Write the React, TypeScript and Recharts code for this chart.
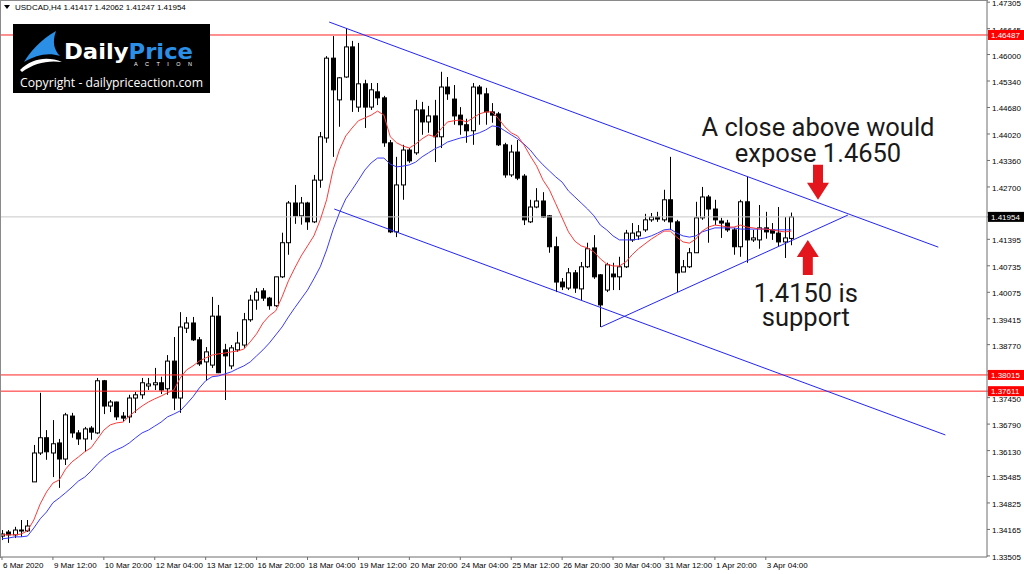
import { ComposedChart, Bar, Line, XAxis, YAxis, ReferenceLine, ReferenceDot } from 'recharts';

// USDCAD H4, one entry per bar from 6 Mar 2020 04:00 to 3 Apr 2020 20:00
const opens = [
  1.3400, 1.3410, 1.3403, 1.3413, 1.3413, 1.3535, 1.3607, 1.3645, 1.3607, 1.3632,
  1.3592, 1.3699, 1.3657, 1.3642, 1.3669, 1.3657, 1.3787, 1.3724, 1.3734, 1.3699,
  1.3697, 1.3744, 1.3752, 1.3774, 1.3777, 1.3782, 1.3767, 1.3836, 1.3744, 1.3918,
  1.3931, 1.3889, 1.3834, 1.3826, 1.3948, 1.3864, 1.3824, 1.3864, 1.3876, 1.3939,
  1.3988, 1.4011, 1.3993, 1.3974, 1.4046, 1.4131, 1.4230, 1.4198, 1.4230, 1.4183,
  1.4287, 1.4392, 1.4591, 1.4487, 1.4544, 1.4619, 1.4469, 1.4527, 1.4469, 1.4507,
  1.4492, 1.4380, 1.4158, 1.4275, 1.4362, 1.4355, 1.4462, 1.4432, 1.4447, 1.4395,
  1.4519, 1.4489, 1.4449, 1.4425, 1.4410, 1.4519, 1.4502, 1.4457, 1.4452, 1.4375,
  1.4300, 1.4357, 1.4297, 1.4183, 1.4220, 1.4235, 1.4198, 1.4121, 1.4033, 1.4018,
  1.4056, 1.4016, 1.4071, 1.4118, 1.4051, 1.4013, 1.4053, 1.4046, 1.4071, 1.4138,
  1.4148, 1.4163, 1.4188, 1.4195, 1.4188, 1.4238, 1.4183, 1.4058, 1.4071, 1.4106,
  1.4193, 1.4245, 1.4215, 1.4185, 1.4180, 1.4163, 1.4121, 1.4233, 1.4138, 1.4138,
  1.4168, 1.4163, 1.4155, 1.4133, 1.41417,
];
const highs = [
  1.3415, 1.3415, 1.3423, 1.3440, 1.3440, 1.3627, 1.3757, 1.3664, 1.3689, 1.3642,
  1.3707, 1.3707, 1.3664, 1.3672, 1.3674, 1.3794, 1.3789, 1.3739, 1.3735, 1.3709,
  1.3752, 1.3759, 1.3794, 1.3794, 1.3819, 1.3797, 1.3851, 1.3896, 1.3958, 1.3946,
  1.3946, 1.3896, 1.3871, 1.3996, 1.3976, 1.3879, 1.3876, 1.3909, 1.3956, 1.4001,
  1.4018, 1.4018, 1.3996, 1.4046, 1.4156, 1.4235, 1.4275, 1.4245, 1.4233, 1.4300,
  1.4407, 1.4596, 1.4646, 1.4544, 1.4666, 1.4634, 1.4629, 1.4537, 1.4529, 1.4529,
  1.4497, 1.4387, 1.4345, 1.4375, 1.4367, 1.4487, 1.4482, 1.4472, 1.4487, 1.4557,
  1.4544, 1.4524, 1.4469, 1.4440, 1.4529, 1.4524, 1.4517, 1.4479, 1.4457, 1.4380,
  1.4375, 1.4387, 1.4302, 1.4238, 1.4267, 1.4257, 1.4200, 1.4146, 1.4043, 1.4068,
  1.4063, 1.4083, 1.4131, 1.4150, 1.4053, 1.4081, 1.4081, 1.4096, 1.4163, 1.4180,
  1.4175, 1.4203, 1.4205, 1.4208, 1.4263, 1.4345, 1.4188, 1.4088, 1.4118, 1.4233,
  1.4270, 1.4250, 1.4238, 1.4193, 1.4188, 1.4168, 1.4238, 1.4295, 1.4163, 1.4225,
  1.4208, 1.4180, 1.4220, 1.4195, 1.42062,
];
const lows = [
  1.3390, 1.3383, 1.3395, 1.3398, 1.3410, 1.3535, 1.3602, 1.3590, 1.3547, 1.3520,
  1.3577, 1.3645, 1.3627, 1.3610, 1.3640, 1.3654, 1.3704, 1.3709, 1.3689, 1.3684,
  1.3682, 1.3707, 1.3742, 1.3764, 1.3764, 1.3754, 1.3752, 1.3714, 1.3707, 1.3906,
  1.3886, 1.3824, 1.3787, 1.3819, 1.3806, 1.3739, 1.3816, 1.3859, 1.3869, 1.3934,
  1.3964, 1.3986, 1.3964, 1.3971, 1.4043, 1.4101, 1.4178, 1.4176, 1.4163, 1.4180,
  1.4268, 1.4380, 1.4345, 1.4420, 1.4542, 1.4457, 1.4457, 1.4417, 1.4462, 1.4474,
  1.4370, 1.4155, 1.4145, 1.4238, 1.4330, 1.4350, 1.4400, 1.4405, 1.4332, 1.4367,
  1.4487, 1.4425, 1.4400, 1.4380, 1.4375, 1.4425, 1.4425, 1.4430, 1.4372, 1.4293,
  1.4295, 1.4287, 1.4175, 1.4180, 1.4217, 1.4193, 1.4106, 1.4008, 1.4013, 1.4013,
  1.4006, 1.3988, 1.4068, 1.4041, 1.3921, 1.4008, 1.4013, 1.4013, 1.4068, 1.4133,
  1.4138, 1.4158, 1.4183, 1.4183, 1.4183, 1.4163, 1.4008, 1.4058, 1.4068, 1.4106,
  1.4188, 1.4131, 1.4175, 1.4143, 1.4158, 1.4101, 1.4096, 1.4081, 1.4133, 1.4116,
  1.4141, 1.4138, 1.4121, 1.4093, 1.41247,
];
const closes = [
  1.3405, 1.3403, 1.3415, 1.3415, 1.3425, 1.3607, 1.3645, 1.3610, 1.3630, 1.3592,
  1.3702, 1.3657, 1.3642, 1.3667, 1.3659, 1.3787, 1.3724, 1.3734, 1.3697, 1.3694,
  1.3744, 1.3752, 1.3782, 1.3779, 1.3782, 1.3764, 1.3836, 1.3744, 1.3921, 1.3931,
  1.3889, 1.3829, 1.3859, 1.3948, 1.3807, 1.3849, 1.3869, 1.3881, 1.3939, 1.3988,
  1.4008, 1.3993, 1.3974, 1.4046, 1.4131, 1.4230, 1.4198, 1.4230, 1.4183, 1.4287,
  1.4395, 1.4591, 1.4512, 1.4542, 1.4619, 1.4487, 1.4527, 1.4469, 1.4512, 1.4492,
  1.4380, 1.4158, 1.4275, 1.4362, 1.4335, 1.4462, 1.4432, 1.4447, 1.4395, 1.4519,
  1.4502, 1.4447, 1.4425, 1.4410, 1.4519, 1.4502, 1.4457, 1.4449, 1.4375, 1.4300,
  1.4357, 1.4292, 1.4188, 1.4220, 1.4235, 1.4195, 1.4121, 1.4033, 1.4021, 1.4056,
  1.4018, 1.4071, 1.4116, 1.4046, 1.3976, 1.4076, 1.4046, 1.4071, 1.4155, 1.4155,
  1.4158, 1.4188, 1.4195, 1.4190, 1.4238, 1.4183, 1.4056, 1.4071, 1.4106, 1.4193,
  1.4245, 1.4215, 1.4188, 1.4180, 1.4163, 1.4121, 1.4233, 1.4138, 1.4143, 1.4168,
  1.4158, 1.4155, 1.4133, 1.4143, 1.41954,
];

// the two moving averages (red = fast, blue = slow)
const fastMa = [
  1.3403, 1.3403, 1.3403, 1.3405, 1.3413, 1.3440, 1.3480, 1.3510, 1.3532, 1.3540,
  1.3567, 1.3585, 1.3597, 1.3610, 1.3620, 1.3642, 1.3664, 1.3677, 1.3682, 1.3684,
  1.3699, 1.3712, 1.3724, 1.3734, 1.3742, 1.3749, 1.3757, 1.3764, 1.3794, 1.3814,
  1.3824, 1.3836, 1.3844, 1.3851, 1.3854, 1.3856, 1.3859, 1.3861, 1.3866, 1.3884,
  1.3904, 1.3931, 1.3949, 1.3961, 1.3996, 1.4036, 1.4068, 1.4098, 1.4123, 1.4148,
  1.4188, 1.4238, 1.4312, 1.4362, 1.4397, 1.4417, 1.4435, 1.4442, 1.4449, 1.4459,
  1.4449, 1.4395, 1.4380, 1.4372, 1.4367, 1.4377, 1.4390, 1.4400, 1.4395, 1.4415,
  1.4432, 1.4435, 1.4437, 1.4432, 1.4442, 1.4452, 1.4457, 1.4457, 1.4440, 1.4420,
  1.4405, 1.4397, 1.4375, 1.4347, 1.4322, 1.4287, 1.4263, 1.4228, 1.4193, 1.4158,
  1.4135, 1.4123, 1.4118, 1.4108, 1.4091, 1.4078, 1.4073, 1.4073, 1.4083, 1.4101,
  1.4116, 1.4128, 1.4140, 1.4150, 1.4160, 1.4160, 1.4145, 1.4133, 1.4130, 1.4140,
  1.4160, 1.4170, 1.4175, 1.4173, 1.4170, 1.4170, 1.4175, 1.4170, 1.4168, 1.4165,
  1.4165, 1.4163, 1.4160, 1.4158, 1.4160,
];
const slowMa = [
  1.3393, 1.3395, 1.3398, 1.3398, 1.3400, 1.3420, 1.3443, 1.3460, 1.3483, 1.3495,
  1.3508, 1.3522, 1.3537, 1.3547, 1.3562, 1.3580, 1.3595, 1.3607, 1.3615, 1.3622,
  1.3632, 1.3645, 1.3657, 1.3664, 1.3674, 1.3684, 1.3697, 1.3704, 1.3712, 1.3729,
  1.3747, 1.3769, 1.3787, 1.3797, 1.3799, 1.3804, 1.3809, 1.3817, 1.3824, 1.3834,
  1.3849, 1.3864, 1.3881, 1.3901, 1.3921, 1.3946, 1.3969, 1.3991, 1.4013, 1.4041,
  1.4071, 1.4113, 1.4163, 1.4205, 1.4240, 1.4263, 1.4287, 1.4312, 1.4330, 1.4342,
  1.4342, 1.4327, 1.4320, 1.4322, 1.4325, 1.4332, 1.4345, 1.4355, 1.4365, 1.4372,
  1.4382, 1.4387, 1.4392, 1.4395, 1.4400, 1.4405, 1.4412, 1.4422, 1.4420, 1.4410,
  1.4400, 1.4390, 1.4377, 1.4362, 1.4342, 1.4325, 1.4310, 1.4295, 1.4282, 1.4260,
  1.4245, 1.4230, 1.4215, 1.4198, 1.4175, 1.4163, 1.4148, 1.4138, 1.4138, 1.4138,
  1.4140, 1.4143, 1.4148, 1.4155, 1.4163, 1.4165, 1.4155, 1.4148, 1.4145, 1.4148,
  1.4158, 1.4163, 1.4168, 1.4168, 1.4168, 1.4168, 1.4165, 1.4165, 1.4165, 1.4165,
  1.4165, 1.4163, 1.4163, 1.4163, 1.4163,
];

// bottom axis: one label every 8 bars
const timeLabels = [
  '6 Mar 2020', '9 Mar 12:00', '10 Mar 20:00', '12 Mar 04:00', '13 Mar 12:00', '16 Mar 20:00',
  '18 Mar 04:00', '19 Mar 12:00', '20 Mar 20:00', '24 Mar 04:00', '25 Mar 12:00', '26 Mar 20:00',
  '30 Mar 04:00', '31 Mar 12:00', '1 Apr 20:00', '3 Apr 04:00',
];
const labelStep = 8;

const priceTicks = [
  1.47305, 1.46645, 1.46, 1.4534, 1.4468, 1.4402, 1.4336, 1.427, 1.42055, 1.41395, 1.40735,
  1.40075, 1.39415, 1.3877, 1.3811, 1.3745, 1.3679, 1.3613, 1.35485, 1.34825, 1.34165, 1.33505,
];

const levels = [1.46487, 1.38015, 1.37611];
const lastPrice = 1.41954;

// hand drawn lines: [barA, priceA, barB, priceB]
const channelTop = [51.4, 1.4681, 147.1, 1.412];
const channelBottom = [52.2, 1.4215, 148.2, 1.3652];
const risingSupport = [94.1, 1.3921, 132.9, 1.42];

const noteUp = { bar: 128.2, price: 1.4238, lines: ['A close above would', 'expose 1.4650'] };
const noteDown = { bar: 126.6, price: 1.4138, lines: ['1.4150 is', 'support'] };

const rows = opens.map((o, i) => ({
  idx: i,
  open: o,
  high: highs[i],
  low: lows[i],
  close: closes[i],
  fast: fastMa[i],
  slow: slowMa[i],
}));
const tickIdx = timeLabels.map((_, i) => i * labelStep);

// price tags go last so they sit on top of the ordinary labels
const tagColor: Record<string, string> = { [lastPrice.toFixed(5)]: '#000' };
levels.forEach((lv) => { tagColor[lv.toFixed(5)] = '#f00'; });
const axisTicks = [...priceTicks, lastPrice, ...levels];

const FONT = 'Liberation Sans, Arial, sans-serif';

const Candle = (props: any) => {
  const { x, y, width, height, payload } = props;
  if (!payload) return null;
  const { open, close, high, low } = payload;
  const cx = Math.floor(x + width / 2) + 0.5;
  const k = height / (high - low || 1);
  const yo = y + (high - open) * k;
  const yc = y + (high - close) * k;
  const top = Math.min(yo, yc);
  const h = Math.max(Math.abs(yc - yo), 1);
  return (
    <g>
      <line x1={cx} x2={cx} y1={y} y2={y + height} stroke="#000" strokeWidth={1} />
      <rect x={cx - 2} y={top} width={4} height={h} fill={close >= open ? '#fff' : '#000'} stroke="#000" strokeWidth={1} />
    </g>
  );
};

const TimeTick = ({ x, y, payload }: any) => (
  <text x={x + 1} y={y} dy={6} fontSize={8} fontFamily={FONT} fill="#000" textAnchor="start">
    {timeLabels[Math.round(payload.value / labelStep)]}
  </text>
);

const PriceTick = ({ x, y, payload }: any) => {
  const label = Number(payload.value).toFixed(5);
  const bg = tagColor[label];
  if (bg) {
    return (
      <g>
        <rect x={x - 4} y={y - 5} width={36} height={10} fill={bg} />
        <text x={x - 1} y={y + 3} fontSize={8} fontFamily={FONT} fill="#fff">{label}</text>
      </g>
    );
  }
  return (
    <text x={x} y={y + 4} fontSize={8} fontFamily={FONT} fill="#000">{label}</text>
  );
};

const ARROW = '#e3161d';

const ArrowNote = ({ cx, cy, dir, lines }: any) => {
  // dir 1: arrow points down to (cx, cy); dir -1: points up
  const s = dir;
  const pts = [
    [cx - 5, cy - 35 * s], [cx + 5, cy - 35 * s], [cx + 5, cy - 17 * s], [cx + 11, cy - 17 * s],
    [cx, cy], [cx - 11, cy - 17 * s], [cx - 5, cy - 17 * s],
  ].map((p) => p.join(',')).join(' ');
  const textX = dir > 0 ? cx : cx - 2;
  const base = dir > 0 ? [cy - 64, cy - 38] : [cy + 62, cy + 86];
  return (
    <g>
      <polygon points={pts} fill={ARROW} />
      {lines.map((t: string, i: number) => (
        <text key={t} x={textX} y={base[i]} textAnchor="middle" fontSize={25.5} fontFamily="Roboto, sans-serif" fill="#1a1a1a">
          {t}
        </text>
      ))}
    </g>
  );
};

const seg = (l: number[]) => [{ x: l[0], y: l[1] }, { x: l[2], y: l[3] }];

const Logo = () => (
  <svg width={1024} height={100} style={{ position: 'absolute', left: 0, top: 0, pointerEvents: 'none' }}>
    <polygon points="4,5 10,5 7,9" fill="#000" />
    <text x={15} y={10} fontSize={8} fontFamily={FONT} fill="#000">USDCAD,H4  1.41417 1.42062 1.41247 1.41954</text>
    <rect x={13} y={24} width={197} height={69} fill="#000" />
    <path d="M24 62 C 30 52, 40 40, 56 31 C 52 42, 54 50, 60 56 C 48 52, 36 55, 24 62 Z" fill="#2b8fe6" />
    <path d="M20 70 C 32 58, 48 56, 62 62 C 48 60, 34 63, 22 72 Z" fill="#fff" />
    <text x={64} y={59} fontSize={22} fontWeight="bold" fontFamily="DejaVu Sans, sans-serif" textLength={129} lengthAdjust="spacingAndGlyphs">
      <tspan fill="#fff">Daily</tspan>
      <tspan fill="#2b8fe6">Price</tspan>
    </text>
    <text x={134} y={66} fontSize={5.5} fontFamily={FONT} fill="#fff" textLength={58} lengthAdjust="spacing">ACTION</text>
    <text x={20} y={87} fontSize={13} fontFamily="Open Sans, sans-serif" fill="#fff" textLength={183} lengthAdjust="spacingAndGlyphs">
      Copyright - dailypriceaction.com
    </text>
  </svg>
);

export default function App() {
  return (
    <div style={{ position: 'absolute', left: 0, top: 0, width: 1024, height: 574, background: '#fff', overflow: 'hidden' }}>
      <ComposedChart width={1024} height={574} data={rows} margin={{ top: 1, right: 0, bottom: 0, left: 1 }}>
        <XAxis
          dataKey="idx"
          type="number"
          domain={[-0.157, 154.75]}
          allowDataOverflow
          ticks={tickIdx}
          interval={0}
          tick={<TimeTick />}
          tickSize={3}
          tickMargin={2}
          height={17}
          axisLine={{ stroke: '#6e6e6e' }}
          tickLine={{ stroke: '#6e6e6e' }}
        />
        <YAxis
          orientation="right"
          domain={[1.33478, 1.47334]}
          allowDataOverflow
          ticks={axisTicks}
          interval={0}
          width={37}
          tickSize={3}
          tickMargin={2}
          tick={<PriceTick />}
          axisLine={{ stroke: '#6e6e6e' }}
          tickLine={{ stroke: '#6e6e6e' }}
        />
        <ReferenceLine y={lastPrice} stroke="#c8c8c8" />
        {levels.map((lv) => (
          <ReferenceLine key={lv} y={lv} stroke="#f22" />
        ))}
        <Bar dataKey={(d: any) => [d.low, d.high]} barSize={5} shape={<Candle />} isAnimationActive={false} />
        <Line dataKey="slow" type="linear" stroke="#3a3aff" strokeWidth={1} dot={false} activeDot={false} isAnimationActive={false} />
        <Line dataKey="fast" type="linear" stroke="#ff3a3a" strokeWidth={1} dot={false} activeDot={false} isAnimationActive={false} />
        <ReferenceLine segment={seg(channelTop)} stroke="#2424f2" ifOverflow="visible" />
        <ReferenceLine segment={seg(channelBottom)} stroke="#2424f2" ifOverflow="visible" />
        <ReferenceLine segment={seg(risingSupport)} stroke="#2424f2" ifOverflow="visible" />
        <ReferenceDot
          x={noteUp.bar}
          y={noteUp.price}
          r={1}
          ifOverflow="visible"
          shape={(p: any) => <ArrowNote cx={p.cx} cy={p.cy} dir={1} lines={noteUp.lines} />}
        />
        <ReferenceDot
          x={noteDown.bar}
          y={noteDown.price}
          r={1}
          ifOverflow="visible"
          shape={(p: any) => <ArrowNote cx={p.cx} cy={p.cy} dir={-1} lines={noteDown.lines} />}
        />
      </ComposedChart>
      <div
        style={{
          position: 'absolute', left: 0, top: 0, width: 988, height: 558,
          borderTop: '1px solid #8a8a8a', borderLeft: '1px solid #8a8a8a', boxSizing: 'border-box', pointerEvents: 'none',
        }}
      />
      <Logo />
    </div>
  );
}
